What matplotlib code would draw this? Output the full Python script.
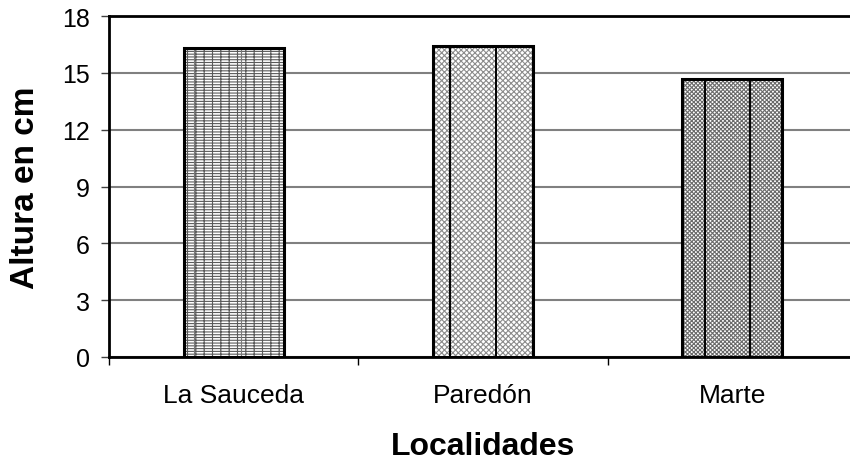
import matplotlib

matplotlib.use("Agg")

import matplotlib.pyplot as plt
import numpy as np

localidades = ["La Sauceda", "Paredón", "Marte"]
altura_cm = [16.3, 16.4, 14.7]
y_ticks = [0, 3, 6, 9, 12, 15, 18]

hatches = ["----++", "xxxxxx", "xxxxxxxx"]
hatch_colors = ["#5a5a5a", "#8c8c8c", "#6a6a6a"]
# inner vertical rules seen in the original fills, as fraction of bar width
inner_rules = [(0.10, 0.57), (0.17, 0.63), (0.23, 0.68)]
rule_colors = ["#7a7a7a", "black", "black"]

plt.rcParams["font.family"] = ["Liberation Sans", "DejaVu Sans"]
plt.rcParams["hatch.linewidth"] = 0.8

fig = plt.figure(figsize=(8.5, 4.64), dpi=100)
ax = fig.add_axes([109 / 850, 106 / 464, 748 / 850, 341 / 464])

x = np.arange(len(localidades))
width = 0.4

ax.set_axisbelow(True)
ax.yaxis.grid(True, color="#808080", linewidth=1.5)

for xi, h, hatch, hc, rules, rc in zip(x, altura_cm, hatches, hatch_colors, inner_rules, rule_colors):
    ax.bar(xi, h, width, color="white", edgecolor=hc, hatch=hatch, linewidth=0, zorder=2)
    left = xi - width / 2
    for fr in rules:
        ax.plot([left + fr * width] * 2, [0, h], color=rc, linewidth=1.4 if rc == "black" else 0.8, zorder=3)
    ax.bar(xi, h, width, fill=False, edgecolor="black", linewidth=2.2, zorder=4)

ax.set_xlim(-0.5, len(localidades) - 0.5)
ax.set_ylim(0, 18)
ax.set_yticks(y_ticks)
ax.set_xticks(np.arange(len(localidades) + 1) - 0.5)
ax.set_xticklabels([])
ax.set_xticks(x, minor=True)
ax.set_xticklabels(localidades, minor=True)

ax.tick_params(axis="x", which="major", length=6, width=1, color="black", direction="out")
ax.tick_params(axis="x", which="minor", length=0, pad=19, labelsize=19)
ax.tick_params(axis="y", length=6, width=1, color="#404040", direction="out", pad=8, labelsize=18)

for side in ["left", "bottom", "top"]:
    ax.spines[side].set_linewidth(2.0)
    ax.spines[side].set_color("black")
ax.spines["right"].set_visible(False)

ax.set_ylabel("Altura en cm", fontsize=24, fontweight="bold")
ax.set_xlabel("Localidades", fontsize=23, fontweight="bold")
ax.yaxis.set_label_coords(-0.091, 0.5)
ax.xaxis.set_label_coords(0.5, -0.217)

fig.savefig("out.png", dpi=100)
